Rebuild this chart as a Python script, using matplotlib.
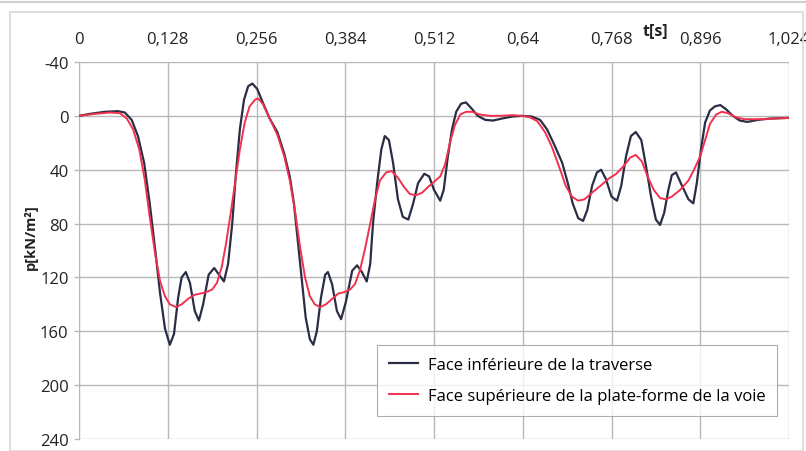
import matplotlib
matplotlib.use("Agg")
import matplotlib.pyplot as plt
from matplotlib.patches import Rectangle

plt.rcParams['font.family'] = ['Open Sans', 'DejaVu Sans']

# ---- data ----
x_ticks = [0, 0.128, 0.256, 0.384, 0.512, 0.64, 0.768, 0.896, 1.024]
x_tick_labels = ['0', '0,128', '0,256', '0,384', '0,512', '0,64', '0,768', '0,896', '1,024']
y_ticks = [-40, 0, 40, 80, 120, 160, 200, 240]
y_tick_labels = ['-40', '0', '40', '80', '120', '160', '200', '240']

t_inf = [0.000, 0.016, 0.037, 0.056, 0.066, 0.076, 0.085, 0.094, 0.102, 0.110,
         0.117, 0.124, 0.131, 0.137, 0.143, 0.148, 0.154, 0.160, 0.167, 0.173,
         0.179, 0.187, 0.195, 0.202, 0.209, 0.215, 0.221, 0.226, 0.232, 0.238,
         0.244, 0.250, 0.257, 0.265, 0.275, 0.286, 0.296, 0.304, 0.310, 0.316,
         0.322, 0.327, 0.333, 0.338, 0.343, 0.349, 0.355, 0.359, 0.365, 0.372,
         0.378, 0.385, 0.394, 0.401, 0.408, 0.415, 0.420, 0.424, 0.430, 0.436,
         0.441, 0.447, 0.453, 0.460, 0.467, 0.475, 0.482, 0.489, 0.498, 0.505,
         0.512, 0.521, 0.526, 0.532, 0.538, 0.544, 0.551, 0.558, 0.567, 0.575,
         0.586, 0.597, 0.610, 0.625, 0.639, 0.653, 0.665, 0.675, 0.686, 0.697,
         0.705, 0.712, 0.720, 0.727, 0.733, 0.740, 0.747, 0.753, 0.760, 0.768,
         0.776, 0.782, 0.789, 0.796, 0.803, 0.811, 0.818, 0.825, 0.832, 0.838,
         0.844, 0.850, 0.855, 0.861, 0.868, 0.879, 0.886, 0.891, 0.897, 0.903,
         0.910, 0.917, 0.925, 0.933, 0.943, 0.953, 0.964, 0.979, 0.997, 1.024]
p_inf = [0, -1.5, -3, -3.5, -2.5, 3, 15, 35, 65, 100,
         132, 158, 170, 162, 135, 120, 116, 124, 145, 152,
         140, 118, 113, 118, 123, 110, 80, 45, 10, -12,
         -22, -24, -20, -10, 2, 12, 28, 45, 65, 95,
         125, 150, 166, 170, 160, 135, 118, 116, 125, 145,
         151, 138, 115, 111, 116, 123, 110, 80, 50, 25,
         15, 18, 35, 62, 75, 77, 65, 50, 43, 45,
         55, 63, 55, 30, 10, -3, -9, -10, -5, 0,
         3, 3.5, 2, 0.5, 0, 0.5, 3, 10, 22, 35,
         50, 65, 76, 78, 70, 52, 42, 40, 47, 60,
         63, 52, 30, 15, 12, 18, 38, 60, 77, 81,
         72, 55, 44, 42, 50, 62, 65, 50, 25, 5,
         -4, -7, -8, -5, 0, 3.5, 4.5, 3, 2, 1.5]

t_sup = [0.000, 0.023, 0.045, 0.059, 0.069, 0.078, 0.087, 0.095, 0.102, 0.110,
         0.117, 0.124, 0.131, 0.140, 0.148, 0.157, 0.166, 0.175, 0.183, 0.192,
         0.199, 0.206, 0.212, 0.218, 0.225, 0.232, 0.239, 0.246, 0.254, 0.258,
         0.265, 0.275, 0.286, 0.296, 0.304, 0.312, 0.319, 0.326, 0.333, 0.340,
         0.348, 0.356, 0.365, 0.374, 0.382, 0.391, 0.398, 0.405, 0.412, 0.420,
         0.427, 0.434, 0.443, 0.451, 0.460, 0.469, 0.477, 0.486, 0.495, 0.503,
         0.512, 0.521, 0.528, 0.535, 0.542, 0.550, 0.558, 0.567, 0.578, 0.593,
         0.607, 0.625, 0.639, 0.650, 0.661, 0.672, 0.682, 0.694, 0.702, 0.711,
         0.720, 0.729, 0.740, 0.752, 0.763, 0.775, 0.786, 0.795, 0.803, 0.812,
         0.820, 0.829, 0.838, 0.846, 0.855, 0.867, 0.879, 0.887, 0.896, 0.903,
         0.910, 0.919, 0.927, 0.936, 0.947, 0.960, 0.982, 1.003, 1.024]
p_sup = [0, -1.5, -2.5, -2, 2, 10, 25, 48, 75, 103,
         123, 134, 140, 142, 140, 136, 133, 132, 131, 129,
         124, 112, 95, 75, 50, 25, 5, -7, -12, -13,
         -9, 2, 14, 30, 48, 72, 98, 120, 134, 140,
         142, 140, 136, 132, 131, 129, 125, 115, 100, 80,
         62, 48, 42, 41, 46, 53, 58, 59, 57, 53,
         49, 45, 36, 20, 7, -1, -3, -3, -1, 0,
         0, -0.5, 0, 1, 4, 12, 23, 40, 52, 60,
         63, 62, 57, 52, 47, 43, 37, 31, 29, 34,
         45, 55, 61, 62, 60, 55, 48, 40, 30, 18,
         6, -1, -3, -2, 1, 2.5, 2.5, 2, 1.5]

label_inf = 'Face inférieure de la traverse'
label_sup = 'Face supérieure de la plate-forme de la voie'

# ---- figure ----
fig = plt.figure(figsize=(8.06, 4.52), dpi=100)
fig.patch.set_facecolor('white')

# outer frame
fig.add_artist(Rectangle((10/806, 0.0), 793/806, 1 - 13/452, transform=fig.transFigure,
                         fill=False, edgecolor='#d8d8d8', linewidth=1.2))
fig.add_artist(plt.Line2D([0, 1], [1 - 3/452, 1 - 3/452], transform=fig.transFigure,
                          color='#d0d0d0', linewidth=1.5))

ax = fig.add_axes([79/806, 1 - 440/452, (789 - 79)/806, (440 - 63)/452])

ax.plot(t_inf, p_inf, color='#2a2e45', linewidth=1.6, label=label_inf, zorder=3)
ax.plot(t_sup, p_sup, color='#f2304f', linewidth=1.4, label=label_sup, zorder=4)

ax.set_xlim(0, 1.024)
ax.set_ylim(240, -40)
ax.set_xticks(x_ticks)
ax.set_xticklabels(x_tick_labels)
ax.set_yticks(y_ticks)
ax.set_yticklabels(y_tick_labels)
ax.xaxis.tick_top()
ax.tick_params(axis='x', which='both', length=0, pad=11, labelsize=12, colors='#222222')
ax.tick_params(axis='y', which='both', length=3.5, width=1, color='#b8b8b8', pad=4,
               labelsize=12, labelcolor='#222222')
ax.grid(True, color='#b8b8b8', linewidth=1.0)
for s in ax.spines.values():
    s.set_visible(False)
ax.spines['left'].set_visible(True)
ax.spines['left'].set_color('#b8b8b8')

fig.text(655/806, 1 - 31/452, 't[s]', fontsize=11.5, fontweight='bold', ha='center',
         va='center', color='#222222')
fig.text(31/806, 1 - 237/452, 'p[kN/m²]', fontsize=10.5, fontweight='bold', ha='center',
         va='center', rotation=90, color='#222222')

leg = ax.legend(loc='lower left', bbox_to_anchor=(377/806, 1 - 417/452), bbox_transform=fig.transFigure,
                fontsize=12, frameon=True, fancybox=False, handlelength=1.7,
                handletextpad=0.6, borderpad=0.73, labelspacing=0.9, borderaxespad=0)
leg.get_frame().set_edgecolor('#999999')
leg.get_frame().set_linewidth(0.8)

fig.savefig('out.png', dpi=100, facecolor='white')
